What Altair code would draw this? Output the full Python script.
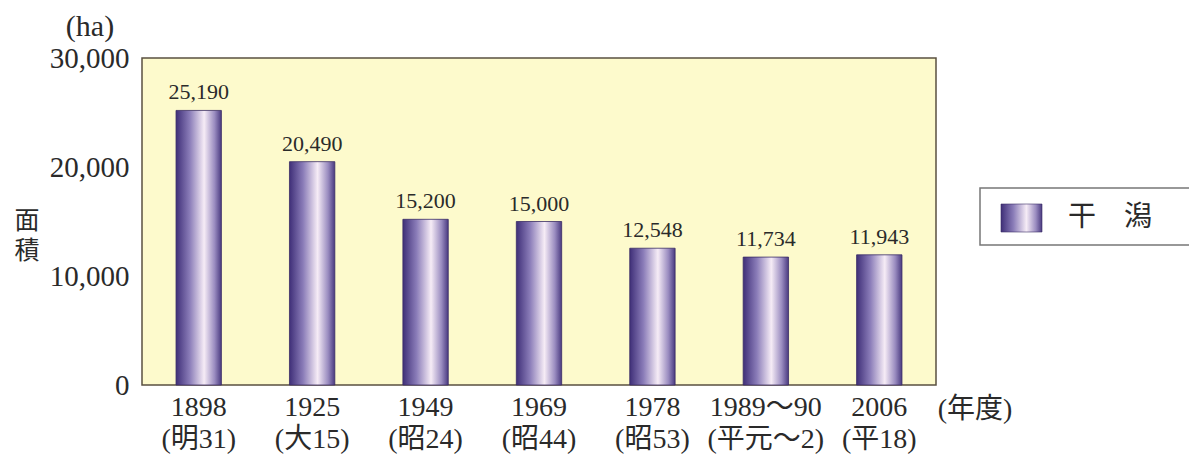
import altair as alt
import pandas as pd

years = ["1898\n(明31)", "1925\n(大15)", "1949\n(昭24)", "1969\n(昭44)",
         "1978\n(昭53)", "1989～90\n(平元～2)", "2006\n(平18)"]
areas = [25190, 20490, 15200, 15000, 12548, 11734, 11943]
y_ticks = [0, 10000, 20000, 30000]

FONT = "Liberation Serif, Noto Sans CJK JP"
TXT = "#2a2a2a"

df = pd.DataFrame({"year": years, "area": areas})
one = pd.DataFrame({"k": [0]})

grad = alt.Gradient(
    gradient="linear", x1=0, x2=1, y1=0, y2=0,
    stops=[
        alt.GradientStop(color="#3f2f78", offset=0),
        alt.GradientStop(color="#8a7cb8", offset=0.3),
        alt.GradientStop(color="#f6ecf6", offset=0.62),
        alt.GradientStop(color="#9a8cc0", offset=0.85),
        alt.GradientStop(color="#4a3a80", offset=1),
    ],
)

x_enc = alt.X("year:N", sort=years, title=None,
              scale=alt.Scale(paddingInner=0.6, paddingOuter=0.3),
              axis=alt.Axis(labelAngle=0, ticks=False, domain=False,
                            labelExpr="split(datum.label, '\\n')",
                            labelFont=FONT, labelFontSize=28, labelColor=TXT,
                            labelLineHeight=32, labelPadding=8, labelBaseline="top"))
y_enc = alt.Y("area:Q", title=None,
              scale=alt.Scale(domain=[0, 30000], nice=False),
              axis=alt.Axis(values=y_ticks, labelExpr="format(datum.value, ',')",
                            grid=False, ticks=False, domain=False,
                            labelFont=FONT, labelFontSize=29, labelColor=TXT, labelPadding=13))

bars = alt.Chart(df).mark_bar(color=grad, stroke="#3a2c66", strokeWidth=0.8).encode(x=x_enc, y=y_enc)

labels = alt.Chart(df).mark_text(baseline="bottom", dy=-6, font=FONT, fontSize=22,
                                 color=TXT).encode(
    x=alt.X("year:N", sort=years),
    y="area:Q",
    text=alt.Text("area:Q", format=",d"),
)

def note(text, x, y, size=28, align="center", lh=None):
    kw = dict(font=FONT, fontSize=size, color=TXT, align=align, baseline="middle")
    if lh:
        kw["lineHeight"] = lh
    return alt.Chart(one).mark_text(**kw).encode(
        x=alt.value(x), y=alt.value(y), text=alt.value(text))

ha = note("(ha)", -52, -31, size=30)
menseki = note(["面", "積"], -115, 163, size=25, lh=30)
nendo = note("(年度)", 833, 352, size=28)

leg_box = alt.Chart(one).mark_rect(fill="white", stroke="#777777", strokeWidth=1.5).encode(
    x=alt.value(838), x2=alt.value(1048), y=alt.value(130), y2=alt.value(187))
leg_sw = alt.Chart(one).mark_rect(color=grad, stroke="#3a2c66", strokeWidth=0.6).encode(
    x=alt.value(859), x2=alt.value(900), y=alt.value(146), y2=alt.value(174))
leg_txt = note("干　潟", 926, 160, size=28, align="left")

chart = alt.layer(bars, labels, ha, menseki, nendo, leg_box, leg_sw, leg_txt).properties(
    width=794, height=327,
    autosize=alt.AutoSizeParams(type="none"),
    padding={"left": 134, "top": 50, "right": 253, "bottom": 73},
    background="white",
).configure_view(
    fill="#fdfacc", stroke="#5a5040", strokeWidth=1.5
)

chart.save("out.html", embed_options={"renderer": "svg", "actions": False})
